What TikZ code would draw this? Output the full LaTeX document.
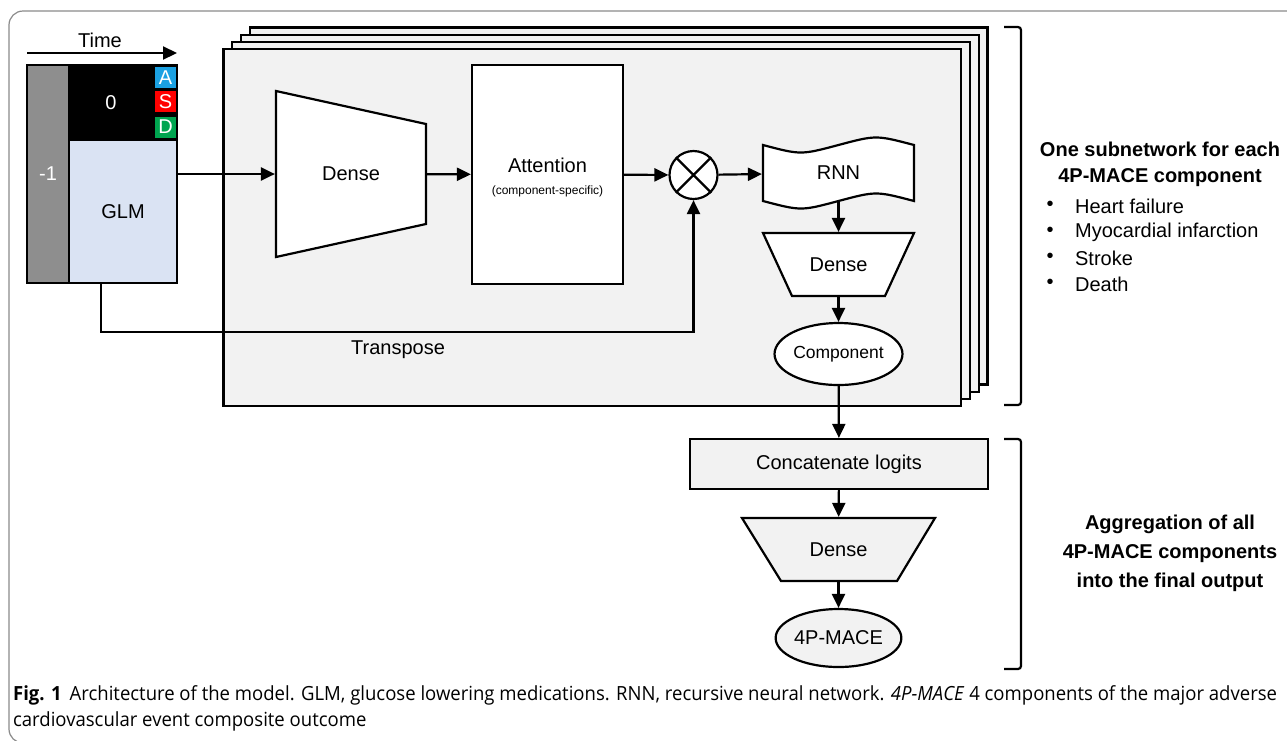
\documentclass[tikz,border=0pt]{standalone}
\usepackage{fontspec}
\setmainfont{Liberation Sans}
\newfontfamily\capfont[FakeStretch=0.95]{Open Sans}
\usetikzlibrary{arrows.meta,shapes.geometric}

\definecolor{pastgray}{HTML}{8E8E8E}
\definecolor{glmblue}{HTML}{DAE3F3}
\definecolor{cellA}{HTML}{1BA1E2}
\definecolor{cellS}{HTML}{FF0000}
\definecolor{cellD}{HTML}{00A550}
\definecolor{lightfill}{HTML}{F2F2F2}
\definecolor{framegray}{HTML}{8A8A8A}

\tikzset{
	blk/.style={draw, line width=2.2pt, inner sep=0pt},
	panel/.style={draw, line width=2.2pt, fill=lightfill, minimum width=737.5pt, minimum height=357pt},
	cell/.style={inner sep=0pt, minimum width=21pt, minimum height=21pt, text=white},
	tag/.style={inner sep=0pt},
	oval/.style={draw, ellipse, inner sep=0pt, line width=2.2pt}
}

\begin{document}
\begin{tikzpicture}[x=1pt,y=-1pt,>={Triangle[length=14pt,width=13pt]},line width=2.2pt,font=\fontsize{20}{24}\selectfont]
	\useasboundingbox (0,0) rectangle (1287,740);
	\draw[framegray, line width=1.2pt, rounded corners=14pt] (1300,11) -- (9,11) -- (9,743) -- (40,743);

	% time axis and input blocks
	\node (time) at (100,40) {Time};
	\coordinate (tstart) at (27,53);
	\coordinate (tend) at (177,53);
	\draw[->] (tstart) -- (tend);
	\node[blk, fill=pastgray, text=white, minimum width=42pt, minimum height=218pt] (prev) at (48,174) {-1};
	\node[blk, fill=black, minimum width=108pt, minimum height=75pt] (now) at (123,102.5) {};
	\node[text=white] (zero) at (111,103) {0};
	\foreach \lbl/\col/\yy in {A/cellA/77.5, S/cellS/101.5, D/cellD/127}
		\node[cell, fill=\col] (cell\lbl) at (165.5,\yy) {\lbl};
	\node[blk, fill=glmblue, minimum width=108pt, minimum height=143pt] (glm) at (123,211.5) {GLM};

	% stacked subnetworks
	\foreach \i in {3,2,1,0}
		\node[panel] (panel\i) at (592.25+8.8*\i, 227.5-7.2*\i) {};

	\draw[fill=white] (276,91) -- (426,124) -- (426,224) -- (276,257) -- cycle;
	\node[tag, minimum width=150pt, minimum height=166pt] (dense) at (351,174) {Dense};
	\node[blk, fill=white, minimum width=151pt, minimum height=219pt] (attention) at (547.5,174.5) {};
	\node[align=center] (attlabel) at (547.5,177) {Attention\\[-2pt]{\fontsize{12}{14}\selectfont (component-specific)}};
	\node[draw, circle, fill=white, minimum size=48pt, inner sep=0pt] (mult) at (693.5,175) {};
	\draw (mult.north west) -- (mult.south east) (mult.north east) -- (mult.south west);
	\draw[fill=white] (763,145) .. controls (800.75,155) .. (838.5,145) .. controls (876,135) .. (914,145)
		-- (914,201) .. controls (876,191) .. (838.5,201) .. controls (801,211) .. (763,201) -- cycle;
	\node[tag, minimum width=151pt, minimum height=56pt] (rnn) at (838.5,173) {RNN};
	\draw[fill=white] (763,233) -- (914,233) -- (885,296) -- (792,296) -- cycle;
	\node[tag, minimum width=151pt, minimum height=63pt] (dense2) at (838.5,264.5) {Dense};
	\node[oval, fill=white, minimum width=113pt, minimum height=62pt, font=\fontsize{17.5}{20}\selectfont] (comp) at (838.5,354) {Component};
	\node (transpose) at (398,350) {Transpose};
	\coordinate (tr) at (101,332);

	% aggregation
	\node[blk, fill=lightfill, minimum width=298pt, minimum height=50pt] (concat) at (839,464) {Concatenate logits};
	\draw[fill=lightfill] (742,518) -- (935,518) -- (897,581) -- (781,581) -- cycle;
	\node[tag, minimum width=193pt, minimum height=63pt] (dense3) at (838.5,549.5) {Dense};
	\node[oval, fill=lightfill, minimum width=115pt, minimum height=58pt] (mace) at (838.5,638) {4P-MACE};

	\draw[->] (glm.east |- dense.west) -- (dense.west);
	\path[->] (dense) edge (attention)
		(attention) edge (mult)
		(mult) edge (rnn)
		(rnn) edge (dense2)
		(dense2) edge (comp)
		(comp) edge (concat)
		(concat) edge (dense3)
		(dense3) edge (mace);
	\draw[->] (glm.south -| tr) -- (tr) -| (mult.south);

	% brackets and notes
	\draw[rounded corners=3pt] (1004,27) -- (1021,27) -- (1021,405) -- (1004,405);
	\draw[rounded corners=3pt] (1004,439) -- (1021,439) -- (1021,669) -- (1004,669);
	\node[align=center, font=\bfseries\fontsize{20}{26}\selectfont] (subnet) at (1160,164) {One subnetwork for each\\4P-MACE component};
	\foreach \txt [count=\k] in {Heart failure, Myocardial infarction, Stroke, Death} {
		\node (dot\k) at (1050,180+26*\k) {\textbullet};
		\node[anchor=west, inner sep=0pt] (item\k) at (1074,180+26*\k) {\txt};
	}
	\node[align=center, font=\bfseries\fontsize{20}{29}\selectfont] (aggr) at (1170,553) {Aggregation of all\\4P-MACE components\\into the final output};

	% caption
	\node[anchor=base west, inner sep=0pt, font=\capfont\fontsize{19.5}{22}\selectfont] (cap1) at (12,700)
		{{\bfseries Fig. 1}\hspace{8pt}Architecture of the model. GLM, glucose lowering medications. RNN, recursive neural network. \textit{4P-MACE} 4 components of the major adverse};
	\node[anchor=base west, inner sep=0pt, font=\capfont\fontsize{19.5}{22}\selectfont] (cap2) at (12,726) {cardiovascular event composite outcome};
\end{tikzpicture}
\end{document}
